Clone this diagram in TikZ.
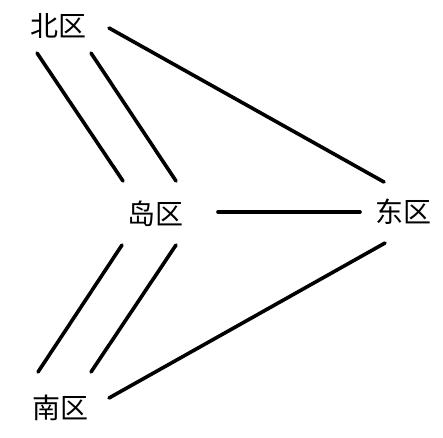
\documentclass[tikz,border=0pt]{standalone}
\usepackage{fontspec}
\setmainfont{Noto Sans CJK SC}
\usepackage{tikz}

\begin{document}
\begin{tikzpicture}[x=1pt,y=-1pt,area/.style={inner sep=0pt,font=\fontsize{28}{28}\selectfont},bridge/.style={line width=3.6pt,line cap=round}]
            \useasboundingbox (0,0) rectangle (443,437);
            \node[area] (bei) at (58,26) {北区};
            \node[area] (dao) at (155,214) {岛区};
            \node[area] (dong) at (403,212) {东区};
            \node[area] (nan) at (60,408) {南区};
            \draw[bridge] ([xshift=-21pt,yshift=-27pt]bei.center) -- ([xshift=-32pt,yshift=33pt]dao.center);
            \draw[bridge] ([xshift=33pt,yshift=-27pt]bei.center) -- ([xshift=21pt,yshift=33pt]dao.center);
            \draw[bridge] ([xshift=51pt,yshift=-2pt]bei.center) -- ([xshift=-19pt,yshift=30pt]dong.center);
            \draw[bridge] ([xshift=63pt,yshift=2pt]dao.center) -- ([xshift=-43pt]dong.center);
            \draw[bridge] ([xshift=-33pt,yshift=-31pt]dao.center) -- ([xshift=-22pt,yshift=36pt]nan.center);
            \draw[bridge] ([xshift=21pt,yshift=-31pt]dao.center) -- ([xshift=31pt,yshift=36pt]nan.center);
            \draw[bridge] ([xshift=49pt,yshift=10pt]nan.center) -- ([xshift=-18pt,yshift=-31pt]dong.center);
\end{tikzpicture}
\end{document}
